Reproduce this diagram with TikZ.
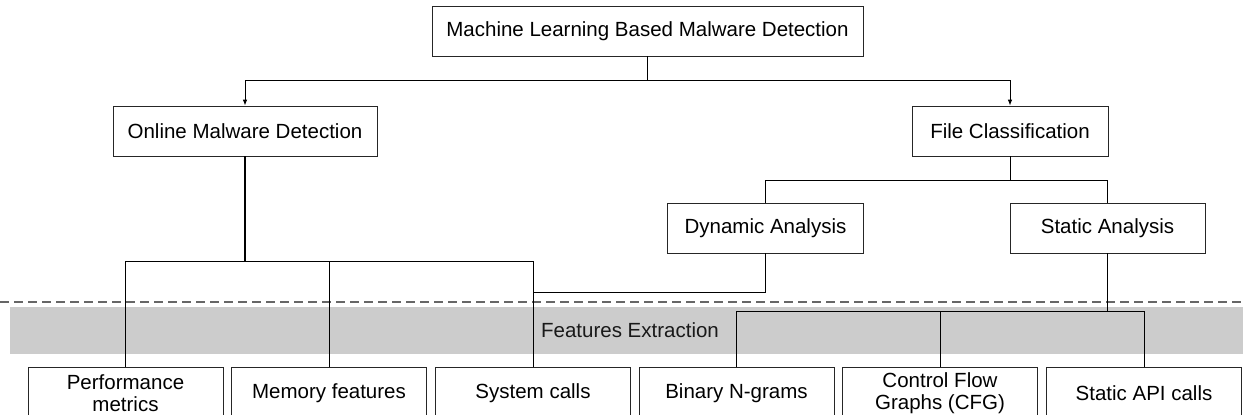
\documentclass[tikz,border=0pt]{standalone}
\usepackage{fontspec}
\setmainfont{Liberation Sans}
\usetikzlibrary{arrows.meta}
\begin{document}
\begin{tikzpicture}[x=1pt,y=-1pt,
  lbl/.style={font=\fontsize{20.5}{22}\selectfont},
  box/.style={lbl,draw=black!85,line width=0.8pt,fill=white,minimum height=50pt,inner sep=0pt,align=center},
  leaf/.style={box,minimum width=195pt,minimum height=52pt},
  conn/.style={line width=0.8pt,draw=black},
  thick conn/.style={line width=1.2pt,draw=black},
  arr/.style={conn,-{Latex[length=6pt,width=4.5pt]}}]
\useasboundingbox (0,0) rectangle (1243,415);
% band
\fill[black!20] (10,307) rectangle (1243,354);
\coordinate (dl) at (0,302);
\coordinate (dr) at (1243,302);
\draw[black!60,line width=1.3pt,dash pattern=on 9pt off 5pt] (dl) -- (dr);
\node[lbl,text=black!90] (fe) at (630,330) {Features Extraction};
% nodes
\node[box,minimum width=431pt] (ml) at (647.5,31) {Machine Learning Based Malware Detection};
\node[box,minimum width=264pt] (online) at (245,131) {Online Malware Detection};
\node[box,minimum width=196pt] (fc) at (1010,131) {File Classification};
\node[box,minimum width=196pt] (dyn) at (765.5,228) {Dynamic Analysis};
\node[box,minimum width=195pt] (stat) at (1107.5,228) {Static Analysis};
\node[leaf] (perf) at (125.5,393) {Performance\\metrics};
\node[leaf] (mem) at (329,393) {Memory features};
\node[leaf] (sys) at (533,393) {System calls};
\node[leaf] (bin) at (736.5,393) {Binary N-grams};
\node[leaf] (cfg) at (940,393) {Control Flow\\Graphs (CFG)};
\node[leaf] (api) at (1144,393) {Static API calls};
% junctions
\coordinate (j1) at (647.5,80);
\coordinate (j2) at (1010,180);
\coordinate (j3) at (245,261);
\coordinate (j4) at (533,292);
\coordinate (j5) at (1107.5,311);
% connectors
\draw[conn] (ml.south) -- (j1);
\draw[arr] (j1) -| (online.north);
\draw[arr] (j1) -| (fc.north);
\draw[conn] (fc.south) -- (j2);
\draw[conn] (j2) -| (dyn.north);
\draw[conn] (j2) -| (stat.north);
\draw[thick conn] (online.south) -- (j3);
\draw[conn] (j3) -| (perf.north);
\draw[conn] (j3) -| (mem.north);
\draw[conn] (j3) -| (sys.north);
\draw[conn] (dyn.south) |- (j4);
\draw[thick conn] (stat.south) -- (j5);
\draw[conn] (j5) -| (bin.north);
\draw[conn] (j5) -| (cfg.north);
\draw[conn] (j5) -| (api.north);
\end{tikzpicture}
\end{document}
